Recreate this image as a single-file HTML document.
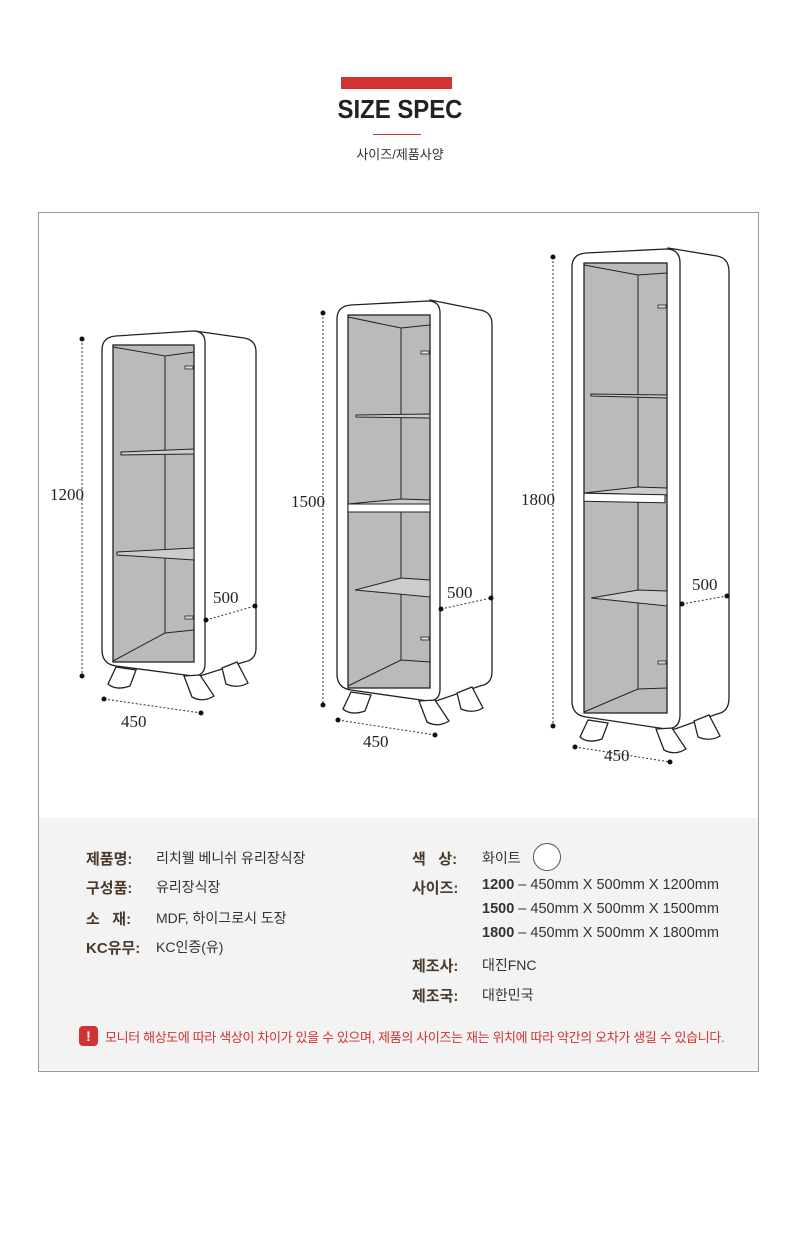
<!DOCTYPE html>
<html><head><meta charset="utf-8"><style>
body{margin:0;width:800px;height:1253px;background:#fff;font-family:"Liberation Sans","Noto Sans CJK KR",sans-serif;position:relative;overflow:hidden}
.a{position:absolute;white-space:nowrap}
.lb{color:#4a3a2c;font-weight:bold;font-size:15px}
.v{color:#333;font-size:14px}
</style></head><body>
<div class="a" style="left:341px;top:77px;width:111px;height:12px;background:#d13232"></div>
<div class="a" style="left:0;width:800px;top:94px;text-align:center;font-size:26px;font-weight:bold;color:#222;letter-spacing:0px;transform:scaleX(0.92)">SIZE SPEC</div>
<div class="a" style="left:373px;top:134px;width:48px;height:1px;background:#d13232"></div>
<div class="a" style="left:0;width:800px;top:144px;text-align:center;font-size:13px;color:#333">사이즈/제품사양</div>

<div class="a" style="left:38px;top:212px;width:719px;height:858px;border:1px solid #999"></div>
<div class="a" style="left:39px;top:818px;width:719px;height:252px;background:#f3f3f3"></div>

<svg class="a" style="left:0;top:0" width="800" height="820" viewBox="0 0 800 820">
<g stroke="#222" stroke-width="1.3" fill="#fff">
<!-- C1 -->
<path d="M195,331 L244,338 Q256,340 256,352 L256,648 Q256,660 244,662 L200,676 L195,676Z"/>
<path d="M116,336 L193,331 Q205,331 205,343 L205,664 Q205,676 193,676 L116,666 Q102,664 102,650 L102,350 Q102,337 116,336Z"/>
<rect x="113" y="345" width="81" height="317" fill="#bababa"/>
<path d="M113,347 L165,356 L194,352 M165,356 L165,633 M113,661 L165,633 L194,630" fill="none" stroke-width="1"/>
<path d="M121,452 L194,449 L194,454 L121,455Z" fill="#ccc" stroke-width="1"/>
<path d="M117,552 L194,548 L194,560 L117,555Z" fill="#ccc" stroke-width="1"/>
<rect x="185" y="366" width="8" height="3" fill="#ddd" stroke-width="0.8"/>
<rect x="185" y="616" width="8" height="3" fill="#ddd" stroke-width="0.8"/>
<g id="legs"><path d="M116,667 L108,684 Q116,691 130,686 L136,670Z"/><path d="M184,676 L192,697 Q203,703 214,696 L200,675Z"/><path d="M222,668 L226,684 Q238,689 248,683 L237,662Z"/></g>
<!-- C2 -->
<path d="M430,300 L480,310 Q492,312 492,324 L492,672 Q492,684 480,686 L436,701 L430,701Z"/>
<path d="M351,305 L428,301 Q440,301 440,313 L440,689 Q440,701 428,701 L351,690 Q337,688 337,674 L337,319 Q337,306 351,305Z"/>
<rect x="348" y="315" width="82" height="373" fill="#bababa"/>
<path d="M348,317 L401,328 L430,325 M401,328 L401,660 M348,686 L401,660 L430,662" fill="none" stroke-width="1"/>
<path d="M356,415 L430,414 L430,418 L356,417Z" fill="#ccc" stroke-width="1"/>
<path d="M348,504 L401,499 L430,500 L430,504 Z" fill="#ccc" stroke-width="1"/>
<rect x="348" y="504" width="82" height="8" fill="#fff" stroke-width="1"/>
<path d="M355,590 L401,578 L430,580 L430,597 Z" fill="#ccc" stroke-width="1"/>
<rect x="421" y="351" width="8" height="3" fill="#ddd" stroke-width="0.8"/>
<rect x="421" y="637" width="8" height="3" fill="#ddd" stroke-width="0.8"/>
<use href="#legs" transform="translate(235,25)"/>
<!-- C3 -->
<path d="M668,248 L717,256 Q729,258 729,272 L729,698 Q729,712 717,714 L675,729 L668,729Z"/>
<path d="M586,253 L666,249 Q680,249 680,263 L680,715 Q680,729 666,729 L586,717 Q572,715 572,701 L572,267 Q572,254 586,253Z"/>
<rect x="584" y="263" width="83" height="450" fill="#bababa"/>
<path d="M584,265 L638,275 L667,273 M638,275 L638,689 M584,712 L638,689 L667,688" fill="none" stroke-width="1"/>
<path d="M591,394 L667,395 L667,398 L591,396Z" fill="#ccc" stroke-width="1"/>
<path d="M584,493 L638,487 L667,488 L667,495 Z" fill="#ccc" stroke-width="1"/>
<rect x="584" y="494" width="81" height="8" fill="#fff" stroke-width="1" transform="rotate(1 624 498)"/>
<path d="M591,598 L638,590 L667,591 L667,606 Z" fill="#ccc" stroke-width="1"/>
<rect x="658" y="305" width="8" height="3" fill="#ddd" stroke-width="0.8"/>
<rect x="658" y="661" width="8" height="3" fill="#ddd" stroke-width="0.8"/>
<use href="#legs" transform="translate(472,53)"/>
</g>
<g stroke="#333" stroke-width="1" stroke-dasharray="2,2" fill="none">
<line x1="82" y1="339" x2="82" y2="676"/><line x1="104" y1="699" x2="201" y2="713"/><line x1="206" y1="620" x2="255" y2="606"/>
<line x1="323" y1="313" x2="323" y2="705"/><line x1="338" y1="720" x2="435" y2="735"/><line x1="441" y1="609" x2="491" y2="598"/>
<line x1="553" y1="257" x2="553" y2="726"/><line x1="575" y1="747" x2="670" y2="762"/><line x1="682" y1="604" x2="727" y2="596"/>
</g>
<g fill="#111">
<circle cx="82" cy="339" r="2.5"/><circle cx="82" cy="676" r="2.5"/><circle cx="104" cy="699" r="2.5"/><circle cx="201" cy="713" r="2.5"/><circle cx="206" cy="620" r="2.5"/><circle cx="255" cy="606" r="2.5"/>
<circle cx="323" cy="313" r="2.5"/><circle cx="323" cy="705" r="2.5"/><circle cx="338" cy="720" r="2.5"/><circle cx="435" cy="735" r="2.5"/><circle cx="441" cy="609" r="2.5"/><circle cx="491" cy="598" r="2.5"/>
<circle cx="553" cy="257" r="2.5"/><circle cx="553" cy="726" r="2.5"/><circle cx="575" cy="747" r="2.5"/><circle cx="670" cy="762" r="2.5"/><circle cx="682" cy="604" r="2.5"/><circle cx="727" cy="596" r="2.5"/>
</g>
<g font-family="Liberation Serif,serif" font-size="17" fill="#222">
<text x="50" y="500">1200</text><text x="121" y="727">450</text><text x="213" y="603">500</text>
<text x="291" y="507">1500</text><text x="363" y="747">450</text><text x="447" y="598">500</text>
<text x="521" y="505">1800</text><text x="604" y="761">450</text><text x="692" y="590">500</text>
</g>
</svg>

<div class="a lb" style="left:86px;top:848px">제품명:</div><div class="a v" style="left:156px;top:848px">리치웰 베니쉬 유리장식장</div>
<div class="a lb" style="left:86px;top:877px">구성품:</div><div class="a v" style="left:156px;top:877px">유리장식장</div>
<div class="a lb" style="left:86px;top:908px">소 &nbsp; 재:</div><div class="a v" style="left:156px;top:908px">MDF, 하이그로시 도장</div>
<div class="a lb" style="left:86px;top:937px">KC유무:</div><div class="a v" style="left:156px;top:937px">KC인증(유)</div>

<div class="a lb" style="left:412px;top:848px">색 &nbsp; 상:</div><div class="a v" style="left:482px;top:848px">화이트</div>
<div class="a" style="left:533px;top:843px;width:26px;height:26px;border:1px solid #555;border-radius:50%;background:#fff"></div>
<div class="a lb" style="left:412px;top:877px">사이즈:</div>
<div class="a v" style="left:482px;top:877px;font-size:14.5px"><b>1200</b> – 450mm X 500mm X 1200mm</div>
<div class="a v" style="left:482px;top:901px;font-size:14.5px"><b>1500</b> – 450mm X 500mm X 1500mm</div>
<div class="a v" style="left:482px;top:925px;font-size:14.5px"><b>1800</b> – 450mm X 500mm X 1800mm</div>
<div class="a lb" style="left:412px;top:955px">제조사:</div><div class="a v" style="left:482px;top:955px">대진FNC</div>
<div class="a lb" style="left:412px;top:985px">제조국:</div><div class="a v" style="left:482px;top:985px">대한민국</div>

<div class="a" style="left:79px;top:1026px;width:19px;height:20px;background:#d13232;border-radius:4px;color:#fff;font-weight:bold;font-size:14px;text-align:center;line-height:20px">!</div>
<div class="a" style="left:105px;top:1027px;font-size:13px;color:#d13232;letter-spacing:-0.35px">모니터 해상도에 따라 색상이 차이가 있을 수 있으며, 제품의 사이즈는 재는 위치에 따라 약간의 오차가 생길 수 있습니다.</div>
</body></html>
